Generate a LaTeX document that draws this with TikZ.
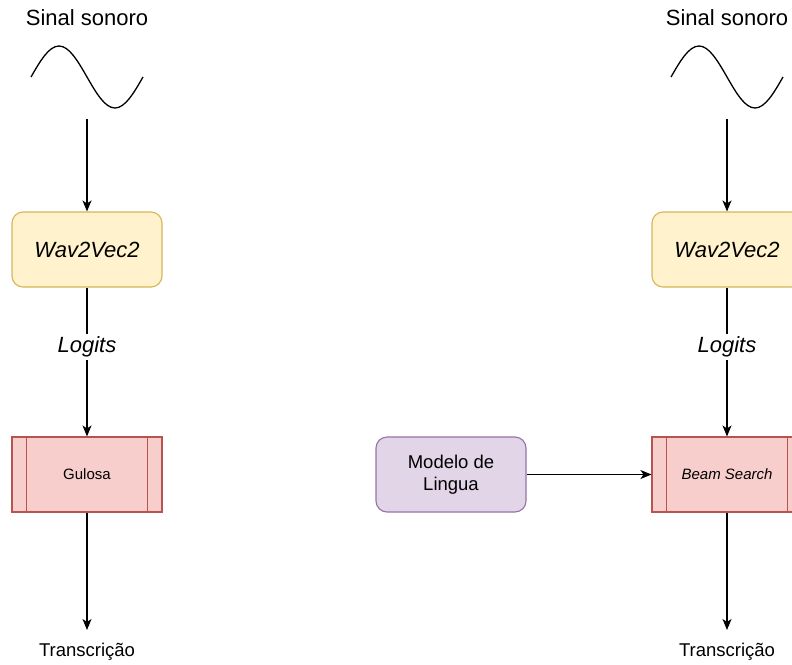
\documentclass[tikz,border=0pt]{standalone}
\usepackage{fontspec}
\setmainfont{Liberation Sans}
\usetikzlibrary{arrows.meta,calc}

\definecolor{modelfill}{HTML}{FFF2CC}
\definecolor{modeldraw}{HTML}{D6B656}
\definecolor{procfill}{HTML}{F8CECC}
\definecolor{procdraw}{HTML}{B85450}
\definecolor{lmfill}{HTML}{E1D5E7}
\definecolor{lmdraw}{HTML}{9673A6}

\tikzset{
  big/.style={font=\fontsize{22}{26}\selectfont},
  mid/.style={font=\fontsize{18.5}{22}\selectfont},
  small/.style={font=\fontsize{15}{18}\selectfont},
  modelbox/.style={draw=modeldraw, fill=modelfill, line width=1.1pt,
    rounded corners=11pt, minimum width=150pt, minimum height=75pt,
    inner sep=0pt, big},
  procbox/.style={draw=procdraw, fill=procfill, line width=1.1pt,
    minimum width=150pt, minimum height=75pt, inner sep=0pt, small},
  lmbox/.style={draw=lmdraw, fill=lmfill, line width=1.1pt,
    rounded corners=11pt, minimum width=150pt, minimum height=75pt,
    inner sep=0pt, mid, align=center},
  flow/.style={line width=1.2pt, -{Stealth[length=11pt,width=9pt,inset=3pt]}},
  wave/.style={line width=1.3pt},
  edgelabel/.style={fill=white, inner sep=3pt, big},
}

\begin{document}
\begin{tikzpicture}[x=1pt, y=-1pt]
  \clip (0,0) rectangle (792,664);
  \fill[white] (0,0) rectangle (792,664);

  % Greedy decoding pipeline (left column)
  \node[big] (sigA) at (87,18) {Sinal sonoro};
  \draw[wave] (31,77) sin (59,46) cos (87,77) sin (115,108) cos (143,77);
  \coordinate (waveA) at (87,119);
  \node[modelbox] (w2vA) at (87,249.5) {\itshape Wav2Vec2};
  \node[procbox] (greedy) at (87,474.5) {Gulosa};
  \draw[procdraw, line width=1.1pt]
    ($(greedy.north west)+(15,0)$) -- ($(greedy.south west)+(15,0)$)
    ($(greedy.north east)+(-15,0)$) -- ($(greedy.south east)+(-15,0)$);
  \coordinate (outA) at (87,630);
  \node[mid] (transA) at (87,652) {Transcrição};

  \draw[flow] (waveA) -- (w2vA.north);
  \draw[flow] (w2vA.south) -- node[edgelabel, pos=0.40] {\itshape Logits} (greedy.north);
  \draw[flow] (greedy.south) -- (outA);

  % Beam search pipeline with language model (right column)
  \node[big] (sigB) at (727,18) {Sinal sonoro};
  \draw[wave] (671,77) sin (699,46) cos (727,77) sin (755,108) cos (783,77);
  \coordinate (waveB) at (727,119);
  \node[modelbox] (w2vB) at (727,249.5) {\itshape Wav2Vec2};
  \node[procbox] (beam) at (727,474.5) {\itshape Beam Search};
  \draw[procdraw, line width=1.1pt]
    ($(beam.north west)+(15,0)$) -- ($(beam.south west)+(15,0)$)
    ($(beam.north east)+(-15,0)$) -- ($(beam.south east)+(-15,0)$);
  \coordinate (outB) at (727,630);
  \node[mid] (transB) at (727,652) {Transcrição};

  \node[lmbox] (lm) at (451,474.5) {Modelo de\\Lingua};

  \draw[flow] (waveB) -- (w2vB.north);
  \draw[flow] (w2vB.south) -- node[edgelabel, pos=0.40] {\itshape Logits} (beam.north);
  \draw[flow] (beam.south) -- (outB);
  \draw[flow] (lm.east) -- (beam.west);
\end{tikzpicture}
\end{document}
